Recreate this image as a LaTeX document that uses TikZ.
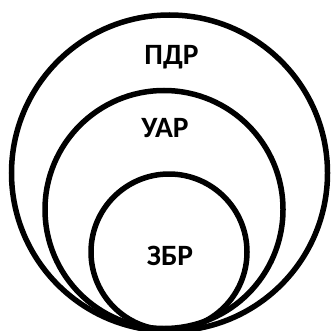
\documentclass[tikz,border=0pt]{standalone}
\usepackage{fontspec}
\setmainfont{Carlito}
\begin{document}
\begin{tikzpicture}[x=1pt,y=-1pt,
  ring/.style={draw=black,line width=5.5pt},
  lbl/.style={font=\fontsize{29.5}{31}\selectfont\bfseries,anchor=base,inner sep=0pt}]
\useasboundingbox[fill=white] (0,0) rectangle (331,331);
\draw[ring] (169.5,173) circle[radius=158];
\draw[ring] (164,209.5) circle[radius=119];
\draw[ring] (169,252) circle[radius=78];
\node[lbl] (p) at (171.5,65) {ПДР};
\node[lbl] (u) at (165,137) {УАР};
\node[lbl] (z) at (170,265) {ЗБР};
\end{tikzpicture}
\end{document}
